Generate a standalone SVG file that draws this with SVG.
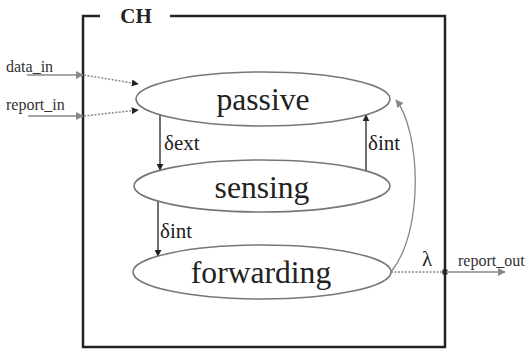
<svg xmlns="http://www.w3.org/2000/svg" width="526" height="349" viewBox="0 0 526 349">
  <style>
    text { font-family: "Liberation Serif", "DejaVu Serif", serif; }
    .state { fill: #ffffff; stroke: #777777; stroke-width: 1.6; }
    .name { font-size: 31.6px; fill: #222222; text-anchor: middle; }
    .lbl { font-size: 21px; fill: #222222; }
    .port { font-size: 16px; fill: #333333; }
    .trans { stroke: #222222; stroke-width: 1.3; fill: none; }
    .grey { stroke: #888888; stroke-width: 1.3; fill: none; }
    .dot { stroke: #888888; stroke-width: 1.5; stroke-dasharray: 2 1.5; fill: none; }
  </style>
  <defs>
    <marker id="ahBlack" viewBox="0 0 10 10" refX="9" refY="5" markerWidth="7" markerHeight="7" markerUnits="userSpaceOnUse" orient="auto">
      <path d="M0,0 L10,5 L0,10 z" fill="#222222"/>
    </marker>
    <marker id="ahGrey" viewBox="0 0 10 10" refX="9" refY="5" markerWidth="8" markerHeight="8" markerUnits="userSpaceOnUse" orient="auto">
      <path d="M0,0 L10,5 L0,10 z" fill="#888888"/>
    </marker>
  </defs>

  <!-- coupled model boundary -->
  <g id="CH">
    <path d="M100,16 H83 V347 H445 V16 H170" fill="none" stroke="#222222" stroke-width="2.5"/>
    <text x="136" y="23" text-anchor="middle" font-size="21" font-weight="bold" fill="#222222">CH</text>
  </g>

  <!-- transitions and ports -->
  <g id="connectors">
    <line class="grey" x1="27" y1="75" x2="83" y2="75" marker-end="url(#ahGrey)"/>
    <line class="grey" x1="28" y1="116" x2="83" y2="116" marker-end="url(#ahGrey)"/>
    <line class="dot" x1="84" y1="75" x2="138" y2="84" marker-end="url(#ahBlack)"/>
    <line class="dot" x1="84" y1="116" x2="138" y2="110" marker-end="url(#ahBlack)"/>

    <line class="trans" x1="160" y1="115" x2="160" y2="170" marker-end="url(#ahBlack)"/>
    <line class="trans" x1="366" y1="171" x2="366" y2="115" marker-end="url(#ahBlack)"/>
    <line class="trans" x1="158" y1="201" x2="158" y2="256" marker-end="url(#ahBlack)"/>

    <path class="grey" d="M391,272 C425,230 420,130 396,100" marker-end="url(#ahGrey)"/>

    <line class="dot" x1="391" y1="272" x2="444" y2="272"/>
    <rect x="442.5" y="269.5" width="5" height="5" fill="#222222"/>
    <line class="grey" x1="446" y1="272" x2="505" y2="272" marker-end="url(#ahGrey)"/>

    <text class="lbl" x="164" y="150">δext</text>
    <text class="lbl" x="368" y="150">δint</text>
    <text class="lbl" x="160" y="238">δint</text>
    <text class="lbl" x="422" y="266" font-size="22">λ</text>
  </g>

  <g id="passive">
    <ellipse class="state" cx="263" cy="99" rx="127" ry="27"/>
    <text class="name" x="263" y="110">passive</text>
  </g>
  <g id="sensing">
    <ellipse class="state" cx="262" cy="186" rx="128" ry="26"/>
    <text class="name" x="262" y="198">sensing</text>
  </g>
  <g id="forwarding">
    <ellipse class="state" cx="262" cy="272" rx="129" ry="27"/>
    <text class="name" x="261" y="283">forwarding</text>
  </g>

  <g id="port-labels">
    <text class="port" x="6" y="72">data_in</text>
    <text class="port" x="6" y="110">report_in</text>
    <text class="port" x="458" y="266">report_out</text>
  </g>
</svg>
